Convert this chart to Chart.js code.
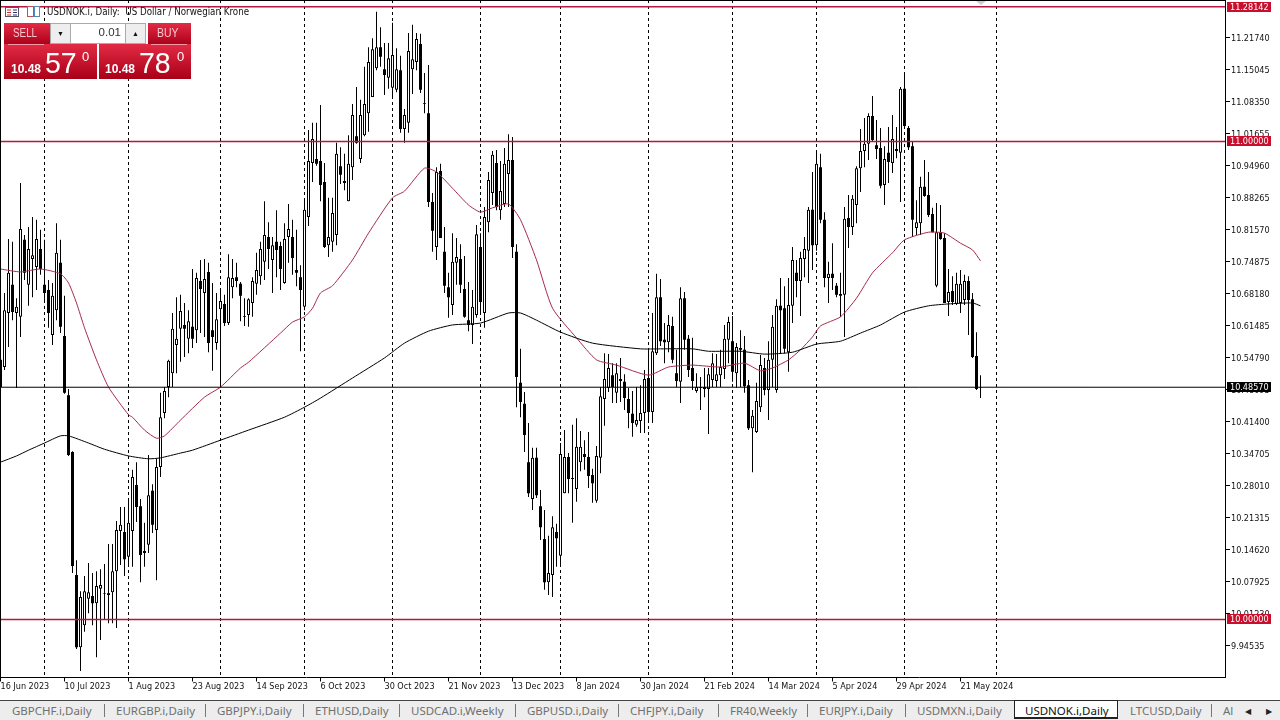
<!DOCTYPE html>
<html>
<head>
    <title>USDNOK.i, Daily</title>
    <script src="https://cdn.jsdelivr.net/npm/chart.js"></script>
    <style>
        body { margin: 0; background: #fff; width: 1280px; height: 720px; overflow: hidden; position: relative; font-family: 'Liberation Sans', sans-serif; }
        #plot { position: absolute; left: 0; top: 0; }
        #frame { position: absolute; left: 0; top: 0; width: 1224px; height: 677px; border-top: 1px solid #000; border-left: 1px solid #000; pointer-events: none; }
        #shift { position: absolute; left: 976px; top: 1px; width: 0; height: 0; border-left: 5px solid transparent; border-right: 5px solid transparent; border-top: 4px solid #ccc; }
        #title { position: absolute; left: 47px; top: 6px; font: 9.7px 'DejaVu Sans Condensed', 'Liberation Sans', sans-serif; color: #111; white-space: pre; }
        #icons { position: absolute; left: 5px; top: 6px; }
        .box { position: absolute; background: linear-gradient(#e32a44, #a90018); color: #fff; }
        .lbl { position: absolute; color: #f8c8d0; font-size: 12px; transform-origin: left; }
        .rule { position: absolute; height: 1px; background: #f29aa8; }
        .small { position: absolute; font-size: 12px; font-weight: bold; color: #fff; }
        .big { position: absolute; font-size: 30px; line-height: 30px; color: #fff; transform: scaleX(.95); transform-origin: left; }
        .sup { position: absolute; font-size: 13px; color: #fff; }
        #spin { position: absolute; left: 50px; top: 23px; width: 94px; height: 19px; background: #fff; border: 1px solid #aaa; font-size: 11.5px; }
        .arrow { position: absolute; top: 0; width: 19px; height: 19px; background: #eee; text-align: center; font-size: 7px; line-height: 19px; color: #111; }
        #tabs { position: absolute; left: 0; top: 700px; width: 1280px; height: 19px; background: #ededed; border-top: 1px solid #444; font: 11.5px 'Noto Sans', sans-serif; color: #707070; }
        #tabs span { position: absolute; top: 2px; white-space: nowrap; }
        #tabs i { position: absolute; top: 3px; width: 1px; height: 13px; background: #777; }
        #active { position: absolute; left: 1014px; top: -1px; width: 102px; height: 16px; background: #fff; border: 1px solid #222; border-top: 1px solid #222; border-bottom: 2px solid #222; }
    </style>
</head>
<body>
    <div id="plot"><canvas id="chart" width="1280" height="697"></canvas></div>
    <div id="frame"></div>
    <div id="shift"></div>

    <svg id="icons" width="36" height="12">
        <rect x="0.5" y="1.5" width="13" height="9" fill="#fff" stroke="#556"/>
        <path d="M2 4h4M2 6.5h4M2 9h4" stroke="#c33"/><path d="M8 4h4M8 6.5h4M8 9h4" stroke="#337"/>
        <rect x="22.5" y="0.5" width="6" height="10" fill="#fff" stroke="#b55"/>
        <rect x="29.5" y="0.5" width="5" height="10" fill="#fff" stroke="#58b"/>
    </svg>
    <div id="title">USDNOK.i, Daily:  US Dollar / Norwegian Krone</div>

    <div class="box" style="left:4px;top:23px;width:46px;height:22px"></div>
    <div class="box" style="left:148px;top:23px;width:43px;height:22px"></div>
    <div class="box" style="left:4px;top:44px;width:93px;height:35px"></div>
    <div class="box" style="left:99px;top:44px;width:92px;height:35px"></div>
    <div class="lbl" style="left:13px;top:26px;transform:scaleX(.82)">SELL</div>
    <div class="lbl" style="left:157px;top:26px;transform:scaleX(.87)">BUY</div>
    <div class="rule" style="left:8px;top:44px;width:36px"></div>
    <div class="rule" style="left:151px;top:44px;width:36px"></div>
    <div id="spin">
        <div class="arrow" style="left:0;border-right:1px solid #aaa">&#9660;</div>
        <div style="position:absolute;right:24px;top:2px;color:#333">0.01</div>
        <div class="arrow" style="right:0;border-left:1px solid #aaa">&#9650;</div>
    </div>
    <div class="small" style="left:11px;top:62px">10.48</div>
    <div class="big" style="left:45px;top:48px">57</div>
    <div class="sup" style="left:82px;top:49px">0</div>
    <div class="small" style="left:105px;top:62px">10.48</div>
    <div class="big" style="left:139px;top:48px">78</div>
    <div class="sup" style="left:177px;top:49px">0</div>

    <div id="tabs">
        <div id="active"></div>
        <span style="left:12px">GBPCHF.i,Daily</span><i style="left:104px"></i>
        <span style="left:116px">EURGBP.i,Daily</span><i style="left:205px"></i>
        <span style="left:217px">GBPJPY.i,Daily</span><i style="left:303px"></i>
        <span style="left:315px">ETHUSD,Daily</span><i style="left:399px"></i>
        <span style="left:411px">USDCAD.i,Weekly</span><i style="left:515px"></i>
        <span style="left:527px">GBPUSD.i,Daily</span><i style="left:618px"></i>
        <span style="left:630px">CHFJPY.i,Daily</span><i style="left:718px"></i>
        <span style="left:730px">FR40,Weekly</span><i style="left:807px"></i>
        <span style="left:819px">EURJPY.i,Daily</span><i style="left:905px"></i>
        <span style="left:917px">USDMXN.i,Daily</span>
        <span style="left:1025px;color:#111">USDNOK.i,Daily</span>
        <span style="left:1130px">LTCUSD,Daily</span><i style="left:1211px"></i>
        <span style="left:1223px">Al</span>
        <span style="left:1245px;font-size:8px;top:4px;color:#222">&#9664;</span>
        <span style="left:1266px;font-size:8px;top:4px;color:#222">&#9654;</span>
    </div>

    <script>
        // daily candles
        const opens = [
            10.543,10.528,10.641,10.700,10.641,10.633,10.794,10.700,10.754,10.737,
            10.775,10.700,10.689,10.595,10.647,10.746,10.593,10.469,10.350,10.093,
            9.942,9.988,10.043,10.049,10.034,10.064,10.053,10.055,10.057,10.101,
            10.185,10.183,10.131,10.185,10.281,10.237,10.139,10.156,10.269,10.187,
            10.319,10.432,10.486,10.515,10.574,10.608,10.616,10.587,10.612,10.605,
            10.708,10.683,10.727,10.605,10.578,10.649,10.660,10.620,10.695,10.716,
            10.702,10.635,10.637,10.662,10.702,10.718,10.748,10.800,10.752,10.790,
            10.781,10.704,10.800,10.800,10.731,10.716,10.654,10.842,10.955,10.963,
            10.959,10.915,10.783,10.790,10.804,10.948,10.913,10.875,10.946,11.011,
            10.963,11.013,11.059,11.093,11.153,11.197,11.151,11.133,11.112,11.108,
            11.149,11.026,11.039,11.151,11.166,11.204,11.080,11.059,10.873,10.779,
            10.938,10.769,10.695,10.658,10.746,10.754,10.691,10.626,10.616,10.637,
            10.779,10.641,10.831,10.892,10.955,10.856,10.869,10.932,10.961,10.769,
            10.495,10.451,10.329,10.252,10.338,10.237,10.168,10.078,10.093,10.183,
            10.133,10.264,10.340,10.296,10.273,10.329,10.346,10.340,10.302,10.248,
            10.338,10.461,10.484,10.511,10.474,10.503,10.497,10.461,10.430,10.407,
            10.415,10.432,10.505,10.434,10.557,10.674,10.585,10.580,10.614,10.515,
            10.497,10.672,10.587,10.526,10.478,10.486,10.486,10.482,10.501,10.499,
            10.511,10.524,10.585,10.582,10.515,10.568,10.564,10.490,10.400,10.392,
            10.444,10.526,10.480,10.543,10.480,10.656,10.651,10.559,10.656,10.725,
            10.708,10.754,10.771,10.857,10.783,10.946,10.836,10.714,10.723,10.698,
            10.681,10.679,10.840,10.821,10.867,10.944,10.980,10.995,11.053,10.992,
            10.986,10.909,10.976,10.955,10.984,10.976,11.110,11.028,10.990,10.819,
            10.829,10.905,10.888,10.848,10.698,10.810,10.798,10.664,10.687,10.660,
            10.662,10.668,10.708,10.670,10.551,10.486
        ];
        const closes = [
            10.486,10.647,10.725,10.643,10.654,10.817,10.725,10.775,10.762,10.796,
            10.733,10.683,10.641,10.677,10.767,10.612,10.474,10.344,10.112,9.942,
            10.047,10.059,10.057,10.034,10.070,10.072,10.055,10.051,10.101,10.187,
            10.198,10.126,10.202,10.298,10.235,10.135,10.143,10.260,10.198,10.319,
            10.423,10.478,10.541,10.608,10.587,10.645,10.608,10.624,10.587,10.714,
            10.691,10.712,10.578,10.591,10.628,10.666,10.620,10.716,10.714,10.708,
            10.677,10.633,10.670,10.708,10.731,10.775,10.804,10.775,10.783,10.773,
            10.733,10.796,10.817,10.756,10.725,10.689,10.857,10.959,11.005,10.953,
            10.909,10.779,10.800,10.850,10.974,10.930,10.917,10.953,11.055,10.997,
            11.055,11.078,11.166,11.193,11.197,11.177,11.139,11.174,11.181,11.151,
            11.026,11.055,11.189,11.172,11.214,11.108,11.078,10.873,10.813,10.936,
            10.798,10.698,10.674,10.748,10.758,10.700,10.633,10.616,10.654,10.806,
            10.664,10.842,10.919,10.972,10.863,10.896,10.953,10.961,10.779,10.507,
            10.455,10.386,10.264,10.338,10.260,10.193,10.078,10.097,10.193,10.170,
            10.346,10.340,10.294,10.294,10.361,10.361,10.340,10.300,10.285,10.342,
            10.467,10.503,10.526,10.486,10.515,10.499,10.463,10.432,10.411,10.417,
            10.432,10.503,10.434,10.561,10.674,10.582,10.580,10.616,10.543,10.499,
            10.672,10.585,10.522,10.499,10.486,10.484,10.482,10.513,10.536,10.513,
            10.528,10.587,10.622,10.518,10.570,10.564,10.488,10.400,10.426,10.457,
            10.532,10.480,10.543,10.612,10.656,10.647,10.566,10.658,10.752,10.708,
            10.756,10.775,10.857,10.783,10.953,10.836,10.714,10.723,10.714,10.679,
            10.677,10.838,10.821,10.880,10.944,10.980,10.995,11.053,11.003,10.984,
            10.907,10.963,10.957,11.005,10.980,11.110,11.032,10.988,10.836,10.831,
            10.905,10.886,10.846,10.810,10.810,10.796,10.662,10.685,10.664,10.702,
            10.702,10.708,10.668,10.549,10.482,10.4857
        ];
        const highs = [
            10.553,10.683,10.796,10.790,10.672,10.913,10.804,10.821,10.842,10.836,
            10.815,10.794,10.710,10.704,10.829,10.794,10.677,10.482,10.352,10.124,
            10.059,10.091,10.118,10.097,10.101,10.105,10.116,10.158,10.158,10.206,
            10.235,10.235,10.254,10.313,10.329,10.252,10.202,10.344,10.283,10.336,
            10.474,10.486,10.543,10.641,10.674,10.679,10.662,10.647,10.733,10.725,
            10.752,10.754,10.746,10.704,10.683,10.693,10.679,10.764,10.754,10.746,
            10.706,10.672,10.672,10.716,10.767,10.790,10.875,10.831,10.800,10.856,
            10.790,10.829,10.869,10.836,10.815,10.741,10.877,11.024,11.039,11.039,
            11.076,10.955,10.882,10.882,10.997,10.988,10.974,11.013,11.078,11.114,
            11.087,11.156,11.197,11.216,11.271,11.239,11.206,11.206,11.248,11.195,
            11.179,11.068,11.227,11.244,11.227,11.225,11.143,11.160,10.892,10.946,
            10.953,10.821,10.725,10.808,10.798,10.785,10.760,10.706,10.689,10.825,
            10.808,10.863,10.936,10.980,10.982,10.959,10.986,11.015,11.009,10.785,
            10.566,10.476,10.411,10.359,10.359,10.271,10.229,10.175,10.216,10.200,
            10.369,10.396,10.348,10.407,10.421,10.394,10.375,10.392,10.315,10.363,
            10.486,10.557,10.555,10.536,10.536,10.547,10.513,10.484,10.478,10.486,
            10.490,10.522,10.564,10.641,10.723,10.712,10.620,10.637,10.633,10.564,
            10.695,10.685,10.595,10.589,10.515,10.507,10.526,10.526,10.557,10.555,
            10.564,10.616,10.633,10.635,10.578,10.605,10.593,10.501,10.438,10.495,
            10.553,10.547,10.582,10.637,10.670,10.714,10.697,10.714,10.779,10.752,
            10.769,10.800,10.863,10.936,10.982,10.974,10.852,10.748,10.787,10.704,
            10.725,10.863,10.888,10.888,10.948,11.026,11.049,11.059,11.095,11.045,
            11.028,10.990,11.030,11.055,11.030,11.114,11.143,11.032,11.001,10.877,
            10.926,10.961,10.936,10.861,10.871,10.867,10.808,10.733,10.718,10.725,
            10.731,10.721,10.718,10.683,10.601,10.511
        ];
        const lows = [
            10.486,10.522,10.570,10.626,10.484,10.591,10.710,10.656,10.674,10.689,
            10.721,10.668,10.610,10.574,10.626,10.599,10.472,10.342,10.097,9.938,
            9.892,9.974,10.013,9.988,9.921,9.957,10.001,9.992,9.992,9.982,
            10.114,10.091,10.110,10.110,10.204,10.078,10.110,10.139,10.181,10.082,
            10.298,10.421,10.465,10.486,10.515,10.539,10.549,10.557,10.568,10.578,
            10.599,10.591,10.559,10.520,10.564,10.486,10.614,10.616,10.672,10.695,
            10.624,10.614,10.612,10.633,10.679,10.700,10.710,10.733,10.683,10.716,
            10.689,10.702,10.746,10.721,10.697,10.561,10.647,10.823,10.915,10.949,
            10.875,10.777,10.758,10.769,10.783,10.911,10.898,10.875,10.919,10.995,
            10.955,11.011,11.020,11.093,11.149,11.156,11.097,11.110,11.089,11.103,
            11.018,10.997,11.018,11.099,11.149,11.101,11.059,10.863,10.769,10.752,
            10.798,10.683,10.631,10.637,10.700,10.683,10.631,10.603,10.576,10.631,
            10.641,10.610,10.810,10.867,10.856,10.836,10.863,10.863,10.756,10.444,
            10.423,10.350,10.256,10.229,10.254,10.166,10.062,10.051,10.047,10.110,
            10.110,10.264,10.264,10.202,10.246,10.310,10.313,10.275,10.244,10.244,
            10.306,10.405,10.476,10.453,10.453,10.455,10.438,10.400,10.382,10.403,
            10.390,10.390,10.411,10.411,10.553,10.572,10.536,10.559,10.536,10.486,
            10.453,10.564,10.507,10.480,10.474,10.438,10.465,10.388,10.486,10.486,
            10.486,10.503,10.536,10.497,10.484,10.486,10.474,10.396,10.308,10.390,
            10.434,10.469,10.417,10.486,10.474,10.557,10.557,10.518,10.620,10.674,
            10.635,10.716,10.704,10.731,10.771,10.829,10.695,10.662,10.689,10.674,
            10.633,10.591,10.777,10.804,10.829,10.894,10.946,10.961,10.999,10.963,
            10.902,10.867,10.913,10.934,10.965,10.873,11.030,10.982,10.800,10.804,
            10.804,10.884,10.842,10.810,10.695,10.794,10.662,10.635,10.658,10.658,
            10.641,10.658,10.595,10.547,10.480,10.463
        ];

        // moving averages, sampled where the curve bends
        const ma50Bars = [0,5,10,15,17,19,21,24,27,32,33,36,39,41,45,51,55,60,62,70,73,76,78,80,83,88,92,98,101,106,109,113,117,120,123,127,130,134,138,144,149,154,162,167,173,180,186,190,193,197,200,203,205,210,214,218,223,226,232,236,240,243,245];
        const ma50Values = [10.733,10.727,10.733,10.723,10.704,10.662,10.610,10.543,10.486,10.428,10.423,10.396,10.379,10.384,10.417,10.465,10.486,10.526,10.538,10.599,10.622,10.633,10.651,10.683,10.698,10.752,10.808,10.882,10.896,10.944,10.936,10.902,10.867,10.852,10.861,10.869,10.836,10.752,10.651,10.589,10.543,10.532,10.511,10.528,10.532,10.528,10.536,10.520,10.526,10.543,10.564,10.591,10.614,10.633,10.672,10.725,10.767,10.794,10.810,10.808,10.787,10.773,10.750];
        const ma200Bars = [0,4,7,11,15,17,22,26,32,37,40,45,48,55,62,71,76,80,88,96,101,107,113,120,127,130,134,140,148,160,165,173,177,185,191,198,204,210,215,220,226,232,237,243,245];
        const ma200Values = [10.329,10.342,10.354,10.369,10.384,10.384,10.369,10.356,10.342,10.336,10.338,10.348,10.354,10.375,10.396,10.423,10.444,10.463,10.505,10.547,10.578,10.603,10.616,10.620,10.641,10.641,10.626,10.601,10.578,10.566,10.566,10.566,10.561,10.561,10.555,10.559,10.576,10.582,10.599,10.616,10.643,10.656,10.660,10.662,10.656];

        const xTickBars = [0,16,32,48,64,80,96,112,128,144,160,176,192,208,224,240];
        const xTickLabels = ['16 Jun 2023','10 Jul 2023','1 Aug 2023','23 Aug 2023','14 Sep 2023','6 Oct 2023','30 Oct 2023','21 Nov 2023','13 Dec 2023','8 Jan 2024','30 Jan 2024','21 Feb 2024','14 Mar 2024','5 Apr 2024','29 Apr 2024','21 May 2024'];
        const yTicks = [11.2174,11.15045,11.0835,11.01655,10.9496,10.88265,10.8157,10.74875,10.6818,10.61485,10.5479,10.48095,10.414,10.34705,10.2801,10.21315,10.1462,10.07925,10.0123,9.94535];
        const monthBars = [11,32,55,76,98,120,140,162,183,204,226,249];
        const redLevels = [11.28142,11.0,10.0];
        const bidPrice = 10.4857;

        const priceMax = 11.2958, priceMin = 9.8785;
        const barMin = -0.125, barMax = 306.125;
        const uiFont = '"DejaVu Sans Condensed", "Liberation Sans", sans-serif';
        const lineRed = '#b5173f';

        const wicks = [], upBodies = [], downBodies = [];
        opens.forEach((o, i) => {
            wicks.push({x: i, y: [lows[i], highs[i]]});
            if (closes[i] >= o) upBodies.push({x: i, y: [o, closes[i]]});
            else downBodies.push({x: i, y: [closes[i], o]});
        });

        function hLine(price, color, width) {
            return {type: 'line', order: 1, data: [{x: barMin, y: price}, {x: barMax, y: price}],
                borderColor: color, borderWidth: width, pointRadius: 0};
        }

        const datasets = [];
        monthBars.forEach(m => datasets.push({type: 'line', order: 6,
            data: [{x: m, y: priceMax}, {x: m, y: priceMin}],
            borderColor: '#000', borderWidth: 1, borderDash: [3, 3], pointRadius: 0}));
        datasets.push({type: 'bar', order: 5, data: wicks, backgroundColor: '#000', barThickness: 1, grouped: false, inflateAmount: 0});
        datasets.push({type: 'bar', order: 4, data: upBodies, backgroundColor: '#fff', borderColor: '#000', borderWidth: 1, borderSkipped: false, barThickness: 3, grouped: false, inflateAmount: 0});
        datasets.push({type: 'bar', order: 4, data: downBodies, backgroundColor: '#000', barThickness: 3, grouped: false, inflateAmount: 0});
        datasets.push({type: 'line', order: 2, data: ma200Bars.map((b, i) => ({x: b, y: ma200Values[i]})), borderColor: '#000', borderWidth: 1, pointRadius: 0, tension: 0.2});
        datasets.push({type: 'line', order: 2, data: ma50Bars.map((b, i) => ({x: b, y: ma50Values[i]})), borderColor: '#a52a4a', borderWidth: 1, pointRadius: 0, tension: 0.2});
        redLevels.forEach(p => datasets.push(hLine(p, lineRed, 1.5)));
        datasets.push(hLine(bidPrice, '#000', 1));

        // price tags on the right hand axis
        const priceTags = {
            id: 'priceTags',
            afterDraw(chart) {
                const ctx = chart.ctx, y = chart.scales.y;
                const tag = (price, color) => {
                    const py = Math.round(y.getPixelForValue(price));
                    ctx.fillStyle = color;
                    ctx.fillRect(1227, py - 5, 44, 10);
                    ctx.fillStyle = '#fff';
                    ctx.font = '9px ' + uiFont;
                    ctx.textAlign = 'left';
                    ctx.textBaseline = 'middle';
                    ctx.fillText(price.toFixed(5), 1230, py + 1);
                };
                redLevels.forEach(p => tag(p, '#c8102e'));
                tag(bidPrice, '#000');
            }
        };

        new Chart(document.getElementById('chart'), {
            data: {datasets},
            plugins: [priceTags],
            options: {
                responsive: false,
                animation: false,
                devicePixelRatio: 1,
                layout: {autoPadding: false, padding: 0},
                plugins: {legend: {display: false}, tooltip: {enabled: false}},
                scales: {
                    x: {
                        type: 'linear',
                        offset: false,
                        min: barMin,
                        max: barMax,
                        grid: {display: true, drawOnChartArea: false, color: '#000', tickLength: 4, offset: false},
                        border: {color: '#000'},
                        afterBuildTicks: s => { s.ticks = xTickBars.map(v => ({value: v})); },
                        afterFit: s => { s.height = 19.5; s.paddingLeft = 0; s.paddingRight = 0; },
                        ticks: {
                            autoSkip: false, maxRotation: 0, align: 'start', padding: 0, color: '#111',
                            font: {family: uiFont, size: 9},
                            callback: v => xTickLabels[xTickBars.indexOf(v)]
                        }
                    },
                    y: {
                        position: 'right',
                        min: priceMin,
                        max: priceMax,
                        grid: {display: true, drawOnChartArea: false, color: '#000', tickLength: 5},
                        border: {color: '#000'},
                        afterBuildTicks: s => { s.ticks = yTicks.map(v => ({value: v})); },
                        afterFit: s => { s.width = 55; s.paddingTop = 0; s.paddingBottom = 0; },
                        ticks: {
                            autoSkip: false, padding: 1, color: '#111', labelOffset: 1.5,
                            font: {family: uiFont, size: 9},
                            callback: v => v.toFixed(5)
                        }
                    }
                }
            }
        });
    </script>
</body>
</html>
